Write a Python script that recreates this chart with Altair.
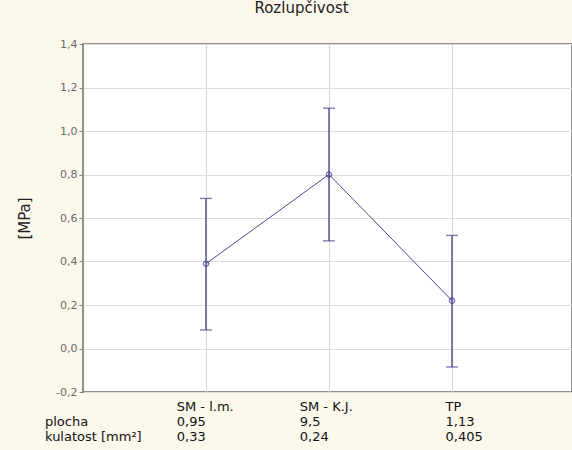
import altair as alt
import pandas as pd

categories = ["SM - l.m.", "SM - K.J.", "TP"]
means = [0.39, 0.80, 0.22]
upper = [0.69, 1.105, 0.52]
lower = [0.085, 0.495, -0.085]
plocha = ["0,95", "9,5", "1,13"]
kulatost = ["0,33", "0,24", "0,405"]
row_labels = ["plocha", "kulatost [mm²]"]
y_ticks = [-0.2, 0.0, 0.2, 0.4, 0.6, 0.8, 1.0, 1.2, 1.4]

W, H = 489, 348
PX_PER_UNIT = 123.0
CHAR_HALF = 3.25  # approx half char width in px for 13px font

df = pd.DataFrame({
    "cat": categories,
    "pos": list(range(1, len(categories) + 1)),
    "mean": means,
    "upper": upper,
    "lower": lower,
    "plocha": plocha,
    "kulatost": kulatost,
})
df["tx"] = df["pos"] - df["cat"].str.len() * CHAR_HALF / PX_PER_UNIT

xscale = alt.Scale(domain=[0, W / PX_PER_UNIT], nice=False, zero=False)
yscale = alt.Scale(domain=[-0.2, 1.4], nice=False, zero=False)

navy = "#3c3c8a"
font = "DejaVu Sans"

x_enc = alt.X("pos:Q", scale=xscale,
              axis=alt.Axis(values=[1, 2, 3], labels=False, ticks=False, domain=False,
                            title=None, grid=True, gridColor="#d6d6d6"))
y_enc = alt.Y("mean:Q", scale=yscale,
              axis=alt.Axis(values=y_ticks,
                            labelExpr="replace(replace(format(datum.value, '.1f'), '.', ','), '\u2212', '-')",
                            grid=True, gridColor="#dcdcdc", domain=False,
                            tickColor="#808080", tickSize=4, labelPadding=2,
                            labelColor="#6a6a6a", labelFont=font, labelFontSize=11,
                            title="[MPa]", titleFont=font, titleFontSize=15, titleFontWeight="normal",
                            titleColor="#222222", titleAngle=270, titleX=-59, titleY=174,
                            titleAlign="center", titleBaseline="middle"))

base = alt.Chart(df)

bars = base.mark_rule(color=navy, strokeWidth=1.3).encode(
    x=x_enc, y=alt.Y("lower:Q", scale=yscale), y2="upper:Q")
cap_hi = base.mark_tick(color=navy, orient="horizontal", size=12, thickness=1.3).encode(
    x=alt.X("pos:Q", scale=xscale), y=alt.Y("upper:Q", scale=yscale))
cap_lo = base.mark_tick(color=navy, orient="horizontal", size=12, thickness=1.3).encode(
    x=alt.X("pos:Q", scale=xscale), y=alt.Y("lower:Q", scale=yscale))
line = base.mark_line(color="#4a4a8e", strokeWidth=1).encode(
    x=alt.X("pos:Q", scale=xscale), y=y_enc)
pts = base.mark_point(shape="circle", size=28, filled=False, color=navy, strokeWidth=1.3).encode(
    x=alt.X("pos:Q", scale=xscale), y=alt.Y("mean:Q", scale=yscale))

txt_style = dict(align="left", baseline="middle", font=font, fontSize=13, color="#111111")
t_cat = base.mark_text(**txt_style).encode(
    x=alt.X("tx:Q", scale=xscale), y=alt.value(363), text="cat:N")
t_pl = base.mark_text(**txt_style).encode(
    x=alt.X("tx:Q", scale=xscale), y=alt.value(378), text="plocha:N")
t_ku = base.mark_text(**txt_style).encode(
    x=alt.X("tx:Q", scale=xscale), y=alt.value(393), text="kulatost:N")

lab_df = pd.DataFrame({"lab": row_labels, "row": [0, 1]})
t_lab1 = alt.Chart(lab_df).transform_filter("datum.row == 0").mark_text(**txt_style).encode(
    x=alt.value(-38), y=alt.value(378), text="lab:N")
t_lab2 = alt.Chart(lab_df).transform_filter("datum.row == 1").mark_text(**txt_style).encode(
    x=alt.value(-38), y=alt.value(393), text="lab:N")

chart = alt.layer(line, bars, cap_hi, cap_lo, pts, t_cat, t_pl, t_ku, t_lab1, t_lab2).properties(
    width=W, height=H,
    title=alt.TitleParams("Rozlupčivost", font=font, fontSize=15, fontWeight="normal",
                          color="#222222", anchor="middle", dx=-26, offset=22),
    autosize=alt.AutoSizeParams(type="none"),
    padding={"left": 83, "top": 44, "right": 0, "bottom": 58},
    background="#fcf8ec",
).configure_view(
    fill="white", stroke="#6e6e6e", strokeWidth=1.5
)

chart.save("out.html", embed_options={"renderer": "svg", "actions": False})
